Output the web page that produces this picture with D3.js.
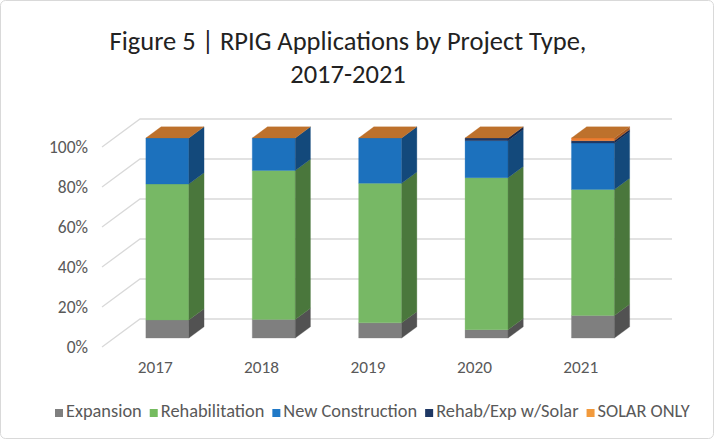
<!DOCTYPE html>
<html><head><meta charset="utf-8">
<script src="https://cdn.jsdelivr.net/npm/d3@7"></script>
<style>body{margin:0;background:#fff}svg{display:block}</style></head>
<body>
<svg id="c" width="714" height="439"></svg>
<script>
// ---- data ----
const years = ["2017", "2018", "2019", "2020", "2021"];
const seriesNames = ["Expansion", "Rehabilitation", "New Construction", "Rehab/Exp w/Solar", "SOLAR ONLY"];
const expansion       = [9.0, 9.3, 7.6, 4.2, 11.3];
const rehabilitation  = [68.0, 74.5, 69.8, 76.0, 63.0];
const newConstruction = [23.0, 16.2, 22.6, 18.5, 23.2];
const rehabExpSolar   = [0, 0, 0, 1.3, 1.2];
const solarOnly       = [0, 0, 0, 0, 1.3];
const yTickValues = [0, 0.2, 0.4, 0.6, 0.8, 1.0];
const titleLines = ["Figure 5 | RPIG Applications by Project Type,", "2017-2021"];

// ---- styles ----
const FONT = "Carlito, Calibri, Lato, 'Noto Sans', sans-serif";
const frontColor = ["#7f7f7f", "#77b865", "#1c71bd", "#203864", "#ec7c30"];
const sideColor  = ["#525252", "#4a773c", "#13497b", "#15264a", "#a85a22"];
const topColor   = ["#9a9a9a", "#8fc67e", "#3a86c8", "#2c4678", "#bd712c"];
const legendColor = ["#7f7f7f", "#75bb5f", "#2079c7", "#1f3864", "#f29a3c"];
const textColor = "#595959";

const rows = years.map((y, i) => ({
  year: y,
  "Expansion": expansion[i],
  "Rehabilitation": rehabilitation[i],
  "New Construction": newConstruction[i],
  "Rehab/Exp w/Solar": rehabExpSolar[i],
  "SOLAR ONLY": solarOnly[i]
}));
const stacked = d3.stack().keys(seriesNames).offset(d3.stackOffsetExpand)(rows);

const svg = d3.select("#c");
svg.append("rect").attr("x", 0.5).attr("y", 0.5).attr("width", 713).attr("height", 438)
  .attr("rx", 5).attr("fill", "#fff").attr("stroke", "#d9d9d9");

// scales (front plane of the floor, z = 0)
const x = d3.scaleBand().domain(years).range([102, 634]).paddingInner(0.596).paddingOuter(0.298);
const y = d3.scaleLinear().domain([0, 1]).range([347, 147]);
const DX = 38, DY = 28;      // full depth offset
const Z0 = 0.32, Z1 = 0.72;  // bar depth span
const P = (px, v, z) => [px + z * DX, y(v) - z * DY];
const poly = pts => "M" + pts.map(p => p.join(",")).join("L") + "Z";

function fit(sel, target) {
  const n = sel.node();
  let fs = parseFloat(sel.attr("font-size"));
  const w = n.getComputedTextLength();
  if (w > 0) { fs = fs * target / w; sel.attr("font-size", fs); }
  return fs;
}

// gridlines: side wall + back wall
const xL = x.range()[0], xR = x.range()[1];
const grid = svg.append("g").attr("stroke", "#d9d9d9").attr("stroke-width", 1.3).attr("fill", "none");
yTickValues.forEach(v => {
  const a = P(xL, v, 0), b = P(xL, v, 1), c = P(xR, v, 1);
  grid.append("path").attr("d", "M" + a.join(",") + "L" + b.join(",") + "L" + c.join(","));
});

// y labels
const ylab = svg.append("g").attr("font-family", FONT).attr("fill", textColor).attr("text-anchor", "end");
const yFmt = d3.format(".0%");
let yfs = 15;
{
  const t = ylab.append("text").attr("font-size", 15).text(yFmt(1));
  yfs = fit(t, 39); t.remove();
}
yTickValues.forEach(v => {
  const p = P(xL, v, 0);
  ylab.append("text").attr("x", 88).attr("y", p[1]).attr("dy", "0.35em")
    .attr("font-size", yfs).text(yFmt(v));
});

// bars
const bars = svg.append("g");
years.forEach((yr, i) => {
  const x0 = x(yr), x1 = x0 + x.bandwidth();
  stacked.forEach((s, k) => {
    const v0 = s[i][0], v1 = s[i][1];
    const g = bars.append("g");
    if (v1 - v0 > 0) {
      g.append("path").attr("d", poly([P(x0, v0, Z0), P(x1, v0, Z0), P(x1, v1, Z0), P(x0, v1, Z0)]))
        .attr("fill", frontColor[k]).attr("stroke", frontColor[k]).attr("stroke-width", 0.3);
      g.append("path").attr("d", poly([P(x1, v0, Z0), P(x1, v0, Z1), P(x1, v1, Z1), P(x1, v1, Z0)]))
        .attr("fill", sideColor[k]).attr("stroke", sideColor[k]).attr("stroke-width", 0.3);
    }
    if (k === stacked.length - 1) {
      g.append("path").attr("d", poly([P(x0, v1, Z0), P(x1, v1, Z0), P(x1, v1, Z1), P(x0, v1, Z1)]))
        .attr("fill", topColor[k]).attr("stroke", topColor[k]).attr("stroke-width", 0.3);
    }
  });
});

// x labels
const xlab = svg.append("g").attr("font-family", FONT).attr("fill", textColor).attr("text-anchor", "middle");
let xfs = 15;
{
  const t = xlab.append("text").attr("font-size", 15).text(years[0]);
  xfs = fit(t, 35); t.remove();
}
years.forEach(yr => {
  xlab.append("text").attr("x", x(yr) + x.bandwidth() / 2).attr("y", 373)
    .attr("font-size", xfs).text(yr);
});

// title
const title = svg.append("g").attr("font-family", FONT).attr("fill", "#222").attr("text-anchor", "middle");
const t1 = title.append("text").attr("x", 348).attr("y", 50).attr("font-size", 24).text(titleLines[0]);
const tfs = fit(t1, 477);
title.append("text").attr("x", 348).attr("y", 83).attr("font-size", tfs).text(titleLines[1]);

// legend: fit total text width to the reference span
const leg = svg.append("g").attr("font-family", FONT).attr("fill", textColor);
const SW = 8, GAP1 = 3, GAP2 = 8;
const LEFT = 55, RIGHT = 690;
const tmp = seriesNames.map(n => leg.append("text").attr("font-size", 15).text(n));
const textSum = d3.sum(tmp, t => t.node().getComputedTextLength());
tmp.forEach(t => t.remove());
const available = (RIGHT - LEFT) - seriesNames.length * (SW + GAP1) - GAP2 * (seriesNames.length - 1);
const lfs = 15 * available / textSum;
let cx = LEFT;
seriesNames.forEach((n, k) => {
  const g = leg.append("g").attr("transform", `translate(${cx},417)`);
  g.append("rect").attr("width", SW).attr("height", SW).attr("y", -SW).attr("fill", legendColor[k]);
  const t = g.append("text").attr("x", SW + GAP1).attr("font-size", lfs).text(n);
  cx += SW + GAP1 + t.node().getComputedTextLength() + GAP2;
});
</script>
</body></html>
